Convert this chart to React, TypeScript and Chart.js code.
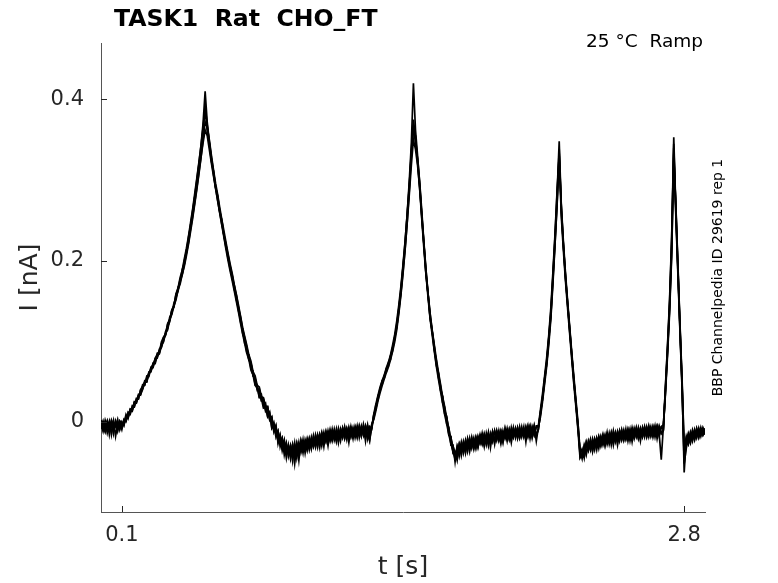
import { useEffect, useRef } from 'react'
import { Chart, registerables } from 'chart.js'

Chart.register(...registerables)

// sampled current traces, one value every 10 ms from t = 0 to 2.9 s (nA)
const traceA = [
  0.000, -0.010, -0.001, -0.014, -0.002, -0.007, 0.002, -0.018, -0.003, -0.009,
  -0.001, -0.004, 0.006, 0.005, 0.016, 0.015, 0.024, 0.023, 0.033, 0.035,
  0.046, 0.046, 0.055, 0.056, 0.068, 0.070, 0.078, 0.079, 0.090, 0.093,
  0.104, 0.108, 0.121, 0.126, 0.138, 0.143, 0.158, 0.164, 0.177, 0.184,
  0.200, 0.210, 0.229, 0.243, 0.262, 0.279, 0.300, 0.320, 0.343, 0.370,
  0.410, 0.372, 0.348, 0.328, 0.311, 0.292, 0.280, 0.262, 0.250, 0.232,
  0.220, 0.202, 0.193, 0.177, 0.169, 0.151, 0.142, 0.124, 0.115, 0.097,
  0.092, 0.076, 0.073, 0.057, 0.053, 0.039, 0.041, 0.027, 0.028, 0.013,
  0.017, 0.002, 0.006, -0.011, -0.008, -0.025, -0.017, -0.032, -0.026, -0.045,
  -0.029, -0.046, -0.032, -0.042, -0.026, -0.037, -0.026, -0.039, -0.022, -0.031,
  -0.020, -0.031, -0.022, -0.032, -0.017, -0.024, -0.013, -0.026, -0.015, -0.030,
  -0.012, -0.021, -0.009, -0.022, -0.013, -0.024, -0.008, -0.017, -0.009, -0.021,
  -0.006, -0.018, -0.009, -0.020, -0.006, -0.015, -0.006, -0.024, -0.005, -0.014,
  -0.003, 0.004, 0.021, 0.027, 0.042, 0.046, 0.058, 0.062, 0.073, 0.077,
  0.092, 0.102, 0.121, 0.140, 0.165, 0.192, 0.223, 0.258, 0.298, 0.345,
  0.420, 0.362, 0.330, 0.296, 0.258, 0.222, 0.185, 0.159, 0.130, 0.112,
  0.089, 0.076, 0.055, 0.045, 0.024, 0.018, -0.003, -0.007, -0.029, -0.029,
  -0.050, -0.030, -0.038, -0.025, -0.039, -0.025, -0.032, -0.020, -0.033, -0.022,
  -0.032, -0.019, -0.026, -0.014, -0.028, -0.017, -0.030, -0.014, -0.023, -0.012,
  -0.023, -0.011, -0.025, -0.013, -0.019, -0.008, -0.021, -0.010, -0.019, -0.008,
  -0.021, -0.009, -0.017, -0.006, -0.025, -0.006, -0.015, -0.007, -0.017, -0.007,
  -0.006, 0.011, 0.031, 0.053, 0.076, 0.104, 0.137, 0.182, 0.231, 0.285,
  0.348, 0.266, 0.220, 0.182, 0.148, 0.117, 0.084, 0.054, 0.022, -0.002,
  -0.034, -0.035, -0.040, -0.025, -0.035, -0.025, -0.036, -0.021, -0.029, -0.018,
  -0.030, -0.018, -0.026, -0.013, -0.028, -0.016, -0.022, -0.013, -0.029, -0.013,
  -0.021, -0.010, -0.022, -0.012, -0.020, -0.007, -0.018, -0.008, -0.021, -0.009,
  -0.018, -0.007, -0.017, -0.005, -0.018, -0.008, -0.015, -0.005, -0.015, -0.047,
  -0.006, 0.042, 0.092, 0.148, 0.226, 0.353, 0.265, 0.190, 0.116, 0.046,
  -0.063, -0.022, -0.028, -0.014, -0.024, -0.010, -0.020, -0.008, -0.018, -0.007,
  -0.013,
]

const traceB = [
  -0.007, 0.001, -0.011, -0.002, -0.008, 0.002, -0.006, -0.001, -0.012, 0.000,
  -0.007, 0.003, 0.000, 0.010, 0.009, 0.020, 0.019, 0.029, 0.028, 0.039,
  0.041, 0.051, 0.051, 0.061, 0.062, 0.073, 0.074, 0.085, 0.086, 0.097,
  0.100, 0.112, 0.116, 0.130, 0.134, 0.147, 0.153, 0.167, 0.173, 0.189,
  0.196, 0.213, 0.224, 0.244, 0.257, 0.279, 0.294, 0.318, 0.335, 0.362,
  0.388, 0.360, 0.345, 0.323, 0.311, 0.291, 0.280, 0.261, 0.250, 0.231,
  0.216, 0.206, 0.189, 0.181, 0.164, 0.155, 0.138, 0.128, 0.110, 0.102,
  0.086, 0.083, 0.066, 0.063, 0.046, 0.046, 0.031, 0.034, 0.020, 0.023,
  0.007, 0.012, -0.007, -0.001, -0.016, -0.011, -0.031, -0.021, -0.036, -0.026,
  -0.043, -0.031, -0.049, -0.029, -0.039, -0.025, -0.038, -0.026, -0.035, -0.021,
  -0.032, -0.019, -0.031, -0.020, -0.032, -0.016, -0.025, -0.013, -0.024, -0.014,
  -0.024, -0.012, -0.021, -0.009, -0.026, -0.011, -0.020, -0.006, -0.018, -0.008,
  -0.018, -0.007, -0.020, -0.008, -0.016, -0.005, -0.017, -0.006, -0.021, -0.006,
  -0.009, 0.008, 0.016, 0.032, 0.038, 0.050, 0.054, 0.065, 0.069, 0.081,
  0.088, 0.105, 0.117, 0.141, 0.161, 0.192, 0.218, 0.256, 0.290, 0.337,
  0.375, 0.352, 0.323, 0.294, 0.254, 0.221, 0.184, 0.159, 0.129, 0.112,
  0.093, 0.070, 0.060, 0.039, 0.031, 0.010, 0.005, -0.017, -0.018, -0.039,
  -0.037, -0.044, -0.029, -0.038, -0.024, -0.034, -0.023, -0.037, -0.022, -0.031,
  -0.019, -0.029, -0.016, -0.026, -0.017, -0.029, -0.016, -0.026, -0.012, -0.023,
  -0.013, -0.024, -0.013, -0.026, -0.009, -0.020, -0.009, -0.020, -0.007, -0.020,
  -0.008, -0.018, -0.006, -0.019, -0.009, -0.019, -0.007, -0.016, -0.004, -0.016,
  -0.010, 0.012, 0.028, 0.054, 0.072, 0.104, 0.133, 0.180, 0.226, 0.278,
  0.338, 0.260, 0.219, 0.178, 0.149, 0.113, 0.085, 0.050, 0.026, -0.008,
  -0.036, -0.046, -0.029, -0.039, -0.024, -0.034, -0.024, -0.035, -0.020, -0.029,
  -0.018, -0.029, -0.018, -0.026, -0.014, -0.029, -0.014, -0.023, -0.012, -0.024,
  -0.011, -0.022, -0.009, -0.024, -0.011, -0.021, -0.008, -0.019, -0.009, -0.024,
  -0.008, -0.019, -0.006, -0.016, -0.006, -0.019, -0.007, -0.015, -0.005, -0.014,
  -0.010, 0.038, 0.088, 0.143, 0.218, 0.345, 0.260, 0.186, 0.113, 0.043,
  -0.045, -0.030, -0.017, -0.025, -0.012, -0.021, -0.009, -0.019, -0.007, -0.016,
  -0.008,
]

const traceC = [
  -0.002, -0.012, 0.002, -0.007, 0.001, -0.016, 0.000, -0.006, 0.003, -0.010,
  0.000, -0.005, 0.007, 0.006, 0.014, 0.013, 0.023, 0.025, 0.034, 0.033,
  0.043, 0.049, 0.050, 0.060, 0.065, 0.068, 0.077, 0.080, 0.088, 0.092,
  0.103, 0.107, 0.118, 0.124, 0.137, 0.142, 0.155, 0.162, 0.175, 0.182,
  0.195, 0.209, 0.222, 0.239, 0.255, 0.272, 0.290, 0.309, 0.328, 0.346,
  0.362, 0.355, 0.338, 0.321, 0.305, 0.290, 0.274, 0.260, 0.245, 0.232,
  0.219, 0.207, 0.193, 0.182, 0.168, 0.157, 0.142, 0.130, 0.115, 0.104,
  0.093, 0.078, 0.073, 0.057, 0.054, 0.041, 0.039, 0.026, 0.027, 0.015,
  0.018, 0.003, 0.004, -0.013, -0.006, -0.022, -0.019, -0.036, -0.025, -0.037,
  -0.031, -0.041, -0.029, -0.052, -0.029, -0.039, -0.023, -0.035, -0.026, -0.036,
  -0.022, -0.034, -0.019, -0.028, -0.016, -0.029, -0.016, -0.031, -0.013, -0.023,
  -0.014, -0.024, -0.012, -0.021, -0.008, -0.019, -0.009, -0.021, -0.010, -0.026,
  -0.008, -0.017, -0.007, -0.018, -0.005, -0.017, -0.007, -0.017, -0.004, -0.022,
  -0.006, 0.009, 0.017, 0.031, 0.039, 0.051, 0.055, 0.066, 0.071, 0.082,
  0.091, 0.104, 0.118, 0.137, 0.160, 0.186, 0.214, 0.246, 0.281, 0.318,
  0.350, 0.338, 0.318, 0.290, 0.257, 0.222, 0.189, 0.160, 0.134, 0.113,
  0.094, 0.073, 0.061, 0.042, 0.032, 0.013, 0.007, -0.014, -0.019, -0.036,
  -0.046, -0.040, -0.028, -0.042, -0.027, -0.037, -0.021, -0.033, -0.021, -0.034,
  -0.021, -0.031, -0.018, -0.027, -0.016, -0.025, -0.013, -0.032, -0.014, -0.024,
  -0.011, -0.022, -0.011, -0.022, -0.012, -0.024, -0.010, -0.021, -0.009, -0.018,
  -0.009, -0.020, -0.009, -0.017, -0.006, -0.017, -0.006, -0.020, -0.007, -0.018,
  -0.009, 0.009, 0.029, 0.050, 0.073, 0.100, 0.132, 0.176, 0.222, 0.270,
  0.325, 0.268, 0.220, 0.181, 0.146, 0.116, 0.082, 0.053, 0.023, -0.006,
  -0.038, -0.042, -0.044, -0.027, -0.036, -0.023, -0.032, -0.022, -0.035, -0.020,
  -0.029, -0.017, -0.029, -0.017, -0.026, -0.013, -0.025, -0.014, -0.022, -0.012,
  -0.023, -0.013, -0.021, -0.009, -0.019, -0.010, -0.021, -0.010, -0.019, -0.008,
  -0.019, -0.008, -0.018, -0.006, -0.016, -0.006, -0.019, -0.006, -0.016, -0.007,
  -0.009, 0.037, 0.086, 0.140, 0.210, 0.332, 0.268, 0.192, 0.118, 0.048,
  -0.035, -0.018, -0.027, -0.013, -0.022, -0.011, -0.019, -0.009, -0.017, -0.010,
  -0.016,
]

const traceD = [
  0.002, -0.006, -0.013, 0.000, -0.010, -0.001, -0.015, 0.001, -0.007, -0.002,
  -0.010, 0.002, 0.001, 0.012, 0.010, 0.018, 0.018, 0.028, 0.029, 0.040,
  0.044, 0.045, 0.057, 0.058, 0.067, 0.067, 0.079, 0.083, 0.085, 0.099,
  0.105, 0.109, 0.122, 0.127, 0.139, 0.144, 0.159, 0.166, 0.179, 0.188,
  0.202, 0.215, 0.230, 0.247, 0.264, 0.283, 0.302, 0.322, 0.342, 0.365,
  0.392, 0.368, 0.346, 0.326, 0.307, 0.290, 0.275, 0.259, 0.244, 0.229,
  0.214, 0.200, 0.187, 0.175, 0.162, 0.149, 0.136, 0.122, 0.109, 0.097,
  0.085, 0.077, 0.064, 0.058, 0.045, 0.042, 0.030, 0.029, 0.017, 0.018,
  0.006, 0.010, -0.008, -0.003, -0.019, -0.012, -0.026, -0.020, -0.041, -0.028,
  -0.039, -0.029, -0.042, -0.026, -0.045, -0.029, -0.036, -0.022, -0.039, -0.023,
  -0.035, -0.022, -0.030, -0.016, -0.027, -0.016, -0.030, -0.017, -0.025, -0.011,
  -0.022, -0.009, -0.023, -0.013, -0.023, -0.009, -0.019, -0.009, -0.022, -0.007,
  -0.019, -0.009, -0.017, -0.005, -0.020, -0.007, -0.016, -0.005, -0.015, -0.024,
  -0.004, 0.003, 0.014, 0.026, 0.036, 0.045, 0.053, 0.061, 0.068, 0.077,
  0.087, 0.099, 0.114, 0.134, 0.157, 0.183, 0.213, 0.247, 0.286, 0.330,
  0.368, 0.345, 0.327, 0.298, 0.262, 0.224, 0.190, 0.160, 0.135, 0.114,
  0.096, 0.078, 0.062, 0.047, 0.031, 0.019, 0.004, -0.008, -0.022, -0.030,
  -0.038, -0.048, -0.028, -0.037, -0.027, -0.039, -0.022, -0.032, -0.019, -0.032,
  -0.020, -0.032, -0.019, -0.028, -0.015, -0.026, -0.015, -0.024, -0.013, -0.028,
  -0.012, -0.022, -0.012, -0.024, -0.008, -0.021, -0.012, -0.026, -0.010, -0.018,
  -0.007, -0.020, -0.010, -0.018, -0.007, -0.016, -0.005, -0.018, -0.006, -0.024,
  -0.007, 0.006, 0.025, 0.047, 0.069, 0.096, 0.128, 0.172, 0.220, 0.272,
  0.333, 0.270, 0.224, 0.185, 0.151, 0.119, 0.087, 0.057, 0.028, 0.000,
  -0.042, -0.034, -0.045, -0.026, -0.034, -0.022, -0.037, -0.023, -0.031, -0.019,
  -0.028, -0.016, -0.030, -0.016, -0.025, -0.014, -0.029, -0.015, -0.023, -0.011,
  -0.022, -0.012, -0.020, -0.010, -0.024, -0.011, -0.019, -0.007, -0.020, -0.010,
  -0.017, -0.006, -0.019, -0.008, -0.017, -0.006, -0.016, -0.006, -0.018, -0.006,
  -0.004, 0.034, 0.082, 0.135, 0.205, 0.328, 0.270, 0.195, 0.121, 0.052,
  -0.030, -0.024, -0.014, -0.022, -0.010, -0.019, -0.008, -0.017, -0.009, -0.015,
  -0.009,
]

const traceE = [
  -0.009, -0.001, -0.006, 0.001, -0.016, 0.000, -0.008, -0.002, -0.010, 0.001,
  -0.002, -0.003, 0.009, 0.004, 0.015, 0.014, 0.025, 0.024, 0.032, 0.034,
  0.040, 0.049, 0.049, 0.062, 0.063, 0.072, 0.072, 0.082, 0.084, 0.094,
  0.099, 0.110, 0.114, 0.127, 0.133, 0.144, 0.151, 0.164, 0.171, 0.183,
  0.193, 0.206, 0.220, 0.236, 0.252, 0.270, 0.288, 0.307, 0.327, 0.350,
  0.372, 0.366, 0.350, 0.331, 0.313, 0.296, 0.282, 0.266, 0.251, 0.237,
  0.223, 0.209, 0.196, 0.184, 0.170, 0.158, 0.145, 0.131, 0.117, 0.106,
  0.095, 0.083, 0.075, 0.062, 0.057, 0.045, 0.043, 0.031, 0.030, 0.019,
  0.019, 0.004, 0.006, -0.010, -0.004, -0.027, -0.016, -0.031, -0.022, -0.040,
  -0.030, -0.042, -0.028, -0.039, -0.028, -0.048, -0.024, -0.034, -0.025, -0.033,
  -0.023, -0.032, -0.017, -0.029, -0.018, -0.032, -0.015, -0.024, -0.012, -0.025,
  -0.010, -0.022, -0.013, -0.025, -0.011, -0.019, -0.008, -0.020, -0.008, -0.018,
  -0.009, -0.021, -0.006, -0.016, -0.007, -0.018, -0.003, -0.015, -0.006, -0.017,
  -0.008, 0.010, 0.022, 0.033, 0.043, 0.051, 0.058, 0.067, 0.074, 0.083,
  0.095, 0.108, 0.125, 0.145, 0.168, 0.195, 0.224, 0.257, 0.293, 0.332,
  0.362, 0.355, 0.322, 0.289, 0.252, 0.216, 0.183, 0.155, 0.128, 0.108,
  0.088, 0.069, 0.053, 0.038, 0.023, 0.009, -0.003, -0.016, -0.027, -0.037,
  -0.043, -0.031, -0.043, -0.028, -0.036, -0.023, -0.037, -0.023, -0.031, -0.020,
  -0.033, -0.018, -0.027, -0.017, -0.031, -0.014, -0.025, -0.016, -0.025, -0.011,
  -0.022, -0.013, -0.027, -0.011, -0.021, -0.012, -0.022, -0.007, -0.019, -0.009,
  -0.019, -0.006, -0.019, -0.009, -0.017, -0.005, -0.021, -0.006, -0.016, -0.005,
  -0.005, 0.015, 0.035, 0.057, 0.080, 0.108, 0.142, 0.187, 0.234, 0.288,
  0.330, 0.255, 0.213, 0.175, 0.142, 0.110, 0.078, 0.047, 0.019, -0.010,
  -0.045, -0.040, -0.030, -0.041, -0.025, -0.035, -0.021, -0.031, -0.021, -0.033,
  -0.019, -0.027, -0.016, -0.028, -0.017, -0.025, -0.011, -0.025, -0.014, -0.022,
  -0.010, -0.023, -0.012, -0.021, -0.009, -0.025, -0.010, -0.018, -0.007, -0.019,
  -0.007, -0.017, -0.008, -0.019, -0.008, -0.017, -0.005, -0.021, -0.007, -0.015,
  -0.011, 0.044, 0.095, 0.152, 0.230, 0.340, 0.255, 0.182, 0.110, 0.040,
  -0.052, -0.033, -0.020, -0.027, -0.014, -0.023, -0.011, -0.020, -0.010, -0.017,
  -0.012,
]

const sampleStep = 0.01
const xTicks = [0.1, 2.8]
const xTickLabels = ['0.1', '2.8']
const yTicks = [0, 0.2, 0.4]
const yTickLabels = ['0', '0.2', '0.4']

const FONT = "'DejaVu Sans', sans-serif"
const INK = '#262626'

function toPoints(trace: number[]) {
  return trace.map((y, i) => ({ x: i * sampleStep, y }))
}

// MATLAB style inward ticks plus the free text around the axes
const decorations = {
  id: 'decorations',
  afterDraw(chart: Chart) {
    const { ctx, chartArea } = chart
    const xs = chart.scales.x
    const ys = chart.scales.y
    ctx.save()
    ctx.strokeStyle = INK
    ctx.lineWidth = 1
    ctx.beginPath()
    xTicks.forEach(v => {
      const px = Math.round(xs.getPixelForValue(v)) + 0.5
      ctx.moveTo(px, chartArea.bottom)
      ctx.lineTo(px, chartArea.bottom - 6)
    })
    yTicks.forEach(v => {
      const py = Math.round(ys.getPixelForValue(v)) + 0.5
      ctx.moveTo(chartArea.left, py)
      ctx.lineTo(chartArea.left + 6, py)
    })
    ctx.stroke()

    ctx.fillStyle = '#000'
    ctx.font = `bold 23.6px ${FONT}`
    ctx.textAlign = 'left'
    ctx.textBaseline = 'alphabetic'
    ctx.fillText('TASK1  Rat  CHO_FT', 114, 26)

    ctx.font = `18.5px ${FONT}`
    ctx.textAlign = 'right'
    ctx.fillText('25 °C  Ramp', 703, 47)

    ctx.fillStyle = INK
    ctx.font = `25px ${FONT}`
    ctx.textAlign = 'center'
    ctx.fillText('t [s]', (chartArea.left + chartArea.right) / 2, 574)

    const midY = (chartArea.top + chartArea.bottom) / 2
    ctx.save()
    ctx.translate(37, midY)
    ctx.rotate(-Math.PI / 2)
    ctx.fillText('I [nA]', 0, 0)
    ctx.restore()

    ctx.fillStyle = '#000'
    ctx.font = `14px ${FONT}`
    ctx.save()
    ctx.translate(722, midY)
    ctx.rotate(-Math.PI / 2)
    ctx.fillText('BBP Channelpedia ID 29619 rep 1', 0, 0)
    ctx.restore()
    ctx.restore()
  },
}

export default function App() {
  const canvasRef = useRef<HTMLCanvasElement>(null)

  useEffect(() => {
    if (!canvasRef.current) return
    const traces = [traceA, traceB, traceC, traceD, traceE]
    const chart = new Chart(canvasRef.current, {
      type: 'line',
      data: {
        datasets: traces.map(t => ({
          data: toPoints(t),
          borderColor: '#000',
          borderWidth: 1.7,
          pointRadius: 0,
          tension: 0,
          fill: false,
        })),
      },
      options: {
        animation: false,
        responsive: false,
        devicePixelRatio: 1,
        layout: { padding: { left: 0, top: 43, right: 73, bottom: 0 } },
        plugins: { legend: { display: false }, tooltip: { enabled: false } },
        scales: {
          x: {
            type: 'linear',
            min: 0,
            max: 2.9,
            afterBuildTicks: scale => { scale.ticks = xTicks.map(value => ({ value })) },
            afterFit: scale => { scale.height = 71 },
            ticks: {
              callback: (_v, i) => xTickLabels[i],
              font: { family: FONT, size: 21 },
              color: INK,
              padding: 11,
              maxRotation: 0,
            },
            grid: { display: false, drawTicks: false },
            border: { display: true, color: '#555', width: 1 },
          },
          y: {
            min: -0.112,
            max: 0.47,
            afterBuildTicks: scale => { scale.ticks = yTicks.map(value => ({ value })) },
            afterFit: scale => { scale.width = 101 },
            ticks: {
              callback: (_v, i) => yTickLabels[i],
              font: { family: FONT, size: 21 },
              color: INK,
              padding: 17,
            },
            grid: { display: false, drawTicks: false },
            border: { display: true, color: '#555', width: 1 },
          },
        },
      },
      plugins: [decorations],
    })
    return () => chart.destroy()
  }, [])

  return (
    <div style={{ position: 'fixed', left: 0, top: 0, width: 778, height: 583, background: '#fff' }}>
      <canvas ref={canvasRef} width={778} height={583} />
    </div>
  )
}
